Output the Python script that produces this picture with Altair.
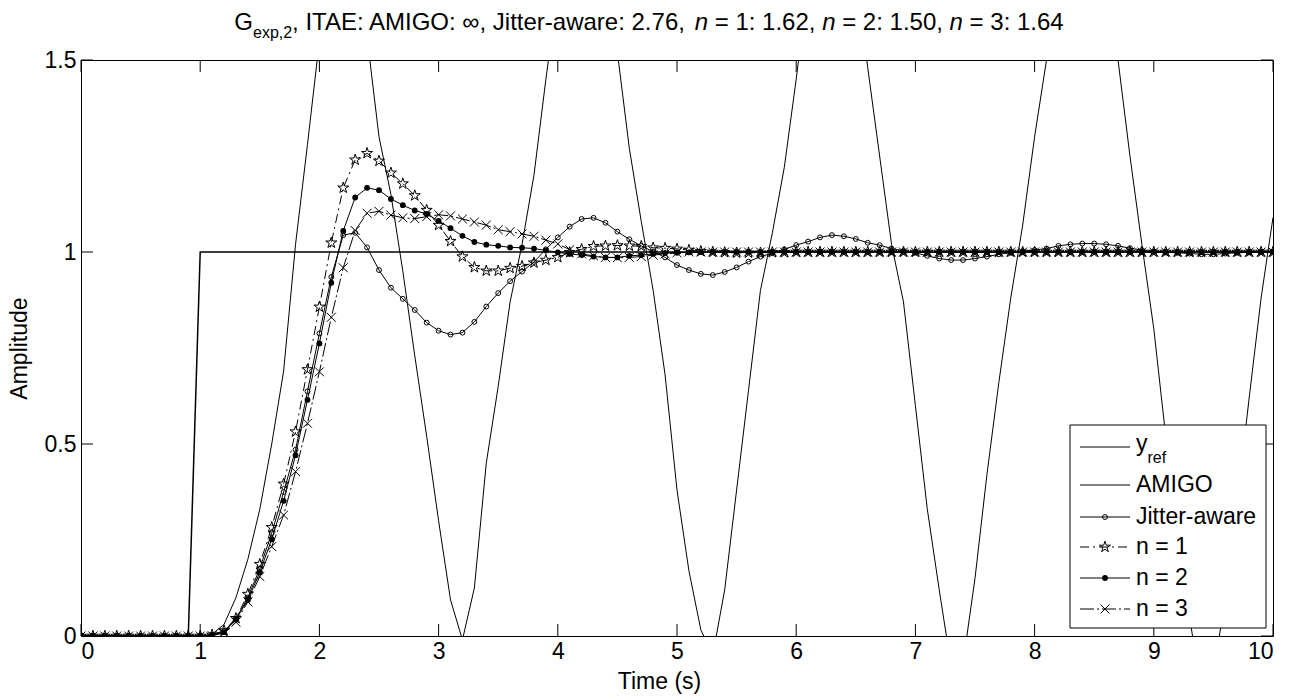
import altair as alt
import pandas as pd

time = [i / 10 for i in range(101)]

y_ref = [0] * 10 + [1] * 91

amigo = [0, 0, 0, 0, 0, 0, 0, 0, 0, 0, 0,
         0.005, 0.03, 0.1, 0.2, 0.33, 0.5, 0.69, 1.02, 1.28, 1.55,
         1.75, 1.85, 1.82, 1.56, 1.3, 1.15, 0.95, 0.73, 0.52, 0.3,
         0.094, -0.01, 0.125, 0.45, 0.65, 0.87, 1.02, 1.2, 1.45, 1.68,
         1.85, 1.92, 1.88, 1.72, 1.52, 1.27, 1.08, 0.9, 0.68, 0.38,
         0.17, 0.016, -0.05, 0.12, 0.38, 0.64, 0.9, 1.05, 1.22, 1.45,
         1.7, 1.88, 1.93, 1.88, 1.72, 1.48, 1.25, 1.02, 0.87, 0.6,
         0.33, 0.12, -0.08, -0.07, 0.15, 0.42, 0.66, 0.88, 1.07, 1.3,
         1.5, 1.75, 1.92, 1.97, 1.9, 1.75, 1.5, 1.25, 1.02, 0.8,
         0.52, 0.25, 0.05, -0.15, -0.1, 0.1, 0.35, 0.62, 0.88, 1.09]

jitter = [0, 0, 0, 0, 0, 0, 0, 0, 0, 0, 0,
          0.003, 0.013, 0.045, 0.1, 0.176, 0.268, 0.375, 0.485, 0.637, 0.788,
          0.935, 1.044, 1.05, 1.012, 0.953, 0.907, 0.878, 0.849, 0.816, 0.795,
          0.785, 0.79, 0.818, 0.858, 0.893, 0.924, 0.949, 0.974, 1.007, 1.038,
          1.066, 1.086, 1.089, 1.076, 1.053, 1.033, 1.016, 1.001, 0.986, 0.966,
          0.953, 0.943, 0.94, 0.948, 0.96, 0.975, 0.988, 0.997, 1.007, 1.018,
          1.027, 1.038, 1.044, 1.041, 1.034, 1.024, 1.018, 1.009, 1.003, 0.998,
          0.99, 0.983, 0.979, 0.979, 0.983, 0.988, 0.994, 0.998, 1.002, 1.005,
          1.009, 1.016, 1.02, 1.022, 1.022, 1.02, 1.016, 1.01, 1.005, 1.001,
          0.999, 0.998, 0.996, 0.994, 0.994, 0.996, 0.998, 0.999, 1.0, 1.0]

n1 = [0, 0, 0, 0, 0, 0, 0, 0, 0, 0, 0,
      0.003, 0.014, 0.046, 0.109, 0.187, 0.283, 0.396, 0.532, 0.694, 0.857,
      1.024, 1.167, 1.24, 1.257, 1.237, 1.206, 1.178, 1.147, 1.109, 1.07,
      1.028, 0.988, 0.96, 0.951, 0.951, 0.958, 0.963, 0.972, 0.979, 0.986,
      0.999, 1.007, 1.015, 1.016, 1.017, 1.016, 1.015, 1.011, 1.01, 1.008,
      1.005, 1.002, 1.0, 0.999, 0.998, 0.998, 0.998, 0.999, 0.999, 1.0,
      1.0, 1.0, 1.0, 1.0, 1.0, 1.0, 1.0, 1.0, 1.0, 1.0,
      1.0, 1.0, 1.0, 1.0, 1.0, 1.0, 1.0, 1.0, 1.0, 1.0,
      1.0, 1.0, 1.0, 1.0, 1.0, 1.0, 1.0, 1.0, 1.0, 1.0,
      1.0, 1.0, 1.0, 1.0, 1.0, 1.0, 1.0, 1.0, 1.0, 1.0]

n2 = [0, 0, 0, 0, 0, 0, 0, 0, 0, 0, 0,
      0.002, 0.01, 0.043, 0.094, 0.166, 0.252, 0.352, 0.471, 0.615, 0.762,
      0.92, 1.055, 1.142, 1.167, 1.161, 1.138, 1.122, 1.108, 1.099, 1.081,
      1.062, 1.042, 1.026, 1.019, 1.016, 1.012, 1.011, 1.009, 1.004, 0.999,
      0.995, 0.992, 0.988, 0.986, 0.986, 0.99, 0.992, 0.995, 0.997, 0.998,
      0.999, 1.0, 1.0, 1.0, 1.0, 1.0, 1.0, 1.0, 1.0, 1.0,
      1.0, 1.0, 1.0, 1.0, 1.0, 1.0, 1.0, 1.0, 1.0, 1.0,
      1.0, 1.0, 1.0, 1.0, 1.0, 1.0, 1.0, 1.0, 1.0, 1.0,
      1.0, 1.0, 1.0, 1.0, 1.0, 1.0, 1.0, 1.0, 1.0, 1.0,
      1.0, 1.0, 1.0, 1.0, 1.0, 1.0, 1.0, 1.0, 1.0, 1.0]

n3 = [0, 0, 0, 0, 0, 0, 0, 0, 0, 0, 0,
      0.001, 0.008, 0.036, 0.089, 0.155, 0.233, 0.315, 0.428, 0.554, 0.688,
      0.83, 0.959, 1.056, 1.101, 1.106, 1.096, 1.089, 1.087, 1.092, 1.097,
      1.094, 1.086, 1.078, 1.07, 1.058, 1.053, 1.047, 1.041, 1.031, 1.021,
      1.006, 0.995, 0.99, 0.986, 0.985, 0.986, 0.988, 0.992, 0.995, 0.998,
      1.0, 1.0, 1.0, 1.0, 1.0, 1.0, 1.0, 1.0, 1.0, 1.0,
      1.0, 1.0, 1.0, 1.0, 1.0, 1.0, 1.0, 1.0, 1.0, 1.0,
      1.0, 1.0, 1.0, 1.0, 1.0, 1.0, 1.0, 1.0, 1.0, 1.0,
      1.0, 1.0, 1.0, 1.0, 1.0, 1.0, 1.0, 1.0, 1.0, 1.0,
      1.0, 1.0, 1.0, 1.0, 1.0, 1.0, 1.0, 1.0, 1.0, 1.0]

x_ticks = [0, 1, 2, 3, 4, 5, 6, 7, 8, 9, 10]
y_ticks = [0, 0.5, 1, 1.5]

legend_labels = ["AMIGO", "Jitter-aware", "n = 1", "n = 2", "n = 3"]

for s in (y_ref, amigo, jitter, n1, n2, n3):
    assert len(s) == len(time), len(s)

# ---------------- style ----------------
FONT = "Liberation Sans"
FS = 23
W_PLOT, H_PLOT = 1192, 576
STAR = ("M0,-1L0.2245,-0.309L0.951,-0.309L0.363,0.118L0.588,0.809L0,0.382"
        "L-0.588,0.809L-0.363,0.118L-0.951,-0.309L-0.2245,-0.309Z")
XMARK = "M-1,-1L1,1M-1,1L1,-1"
DASH_N1 = [9, 4, 2, 4]
DASH_N3 = [14, 3, 2, 3]
STAR_SIZE, X_SIZE, CIRC_SIZE, DOT_SIZE = 135, 80, 24, 34

xs = alt.Scale(domain=[0, 10], nice=False, zero=False)
ys = alt.Scale(domain=[0, 1.5], nice=False, zero=False)
LBL = "'' + datum.value"
X = alt.X("t:Q", scale=xs, axis=alt.Axis(values=x_ticks, labelExpr=LBL, title="Time (s)"))
Y = alt.Y("v:Q", scale=ys, axis=alt.Axis(values=y_ticks, labelExpr=LBL, title="Amplitude"))


def frame(vals):
    return pd.DataFrame({"t": time, "v": vals})


def line(vals, dash=None, width=1.0):
    kw = dict(color="black", strokeWidth=width, clip=True)
    if dash:
        kw["strokeDash"] = dash
    return alt.Chart(frame(vals)).mark_line(**kw).encode(x=X, y=Y)


def points(vals, shape, size, filled):
    return alt.Chart(frame(vals)).mark_point(
        shape=shape, size=size, filled=filled, color="black", opacity=1,
        strokeWidth=1, clip=True).encode(x=X, y=Y)


layers = [
    line(y_ref, width=1.5),
    line(amigo),
    line(jitter), points(jitter, "circle", CIRC_SIZE, False),
    line(n1, dash=DASH_N1), points(n1, STAR, STAR_SIZE, False),
    line(n2), points(n2, "circle", DOT_SIZE, True),
    line(n3, dash=DASH_N3), points(n3, XMARK, X_SIZE, False),
]

# inward ticks on all four sides (MATLAB box style)
dfx = pd.DataFrame({"t": x_ticks})
dfy = pd.DataFrame({"v": y_ticks})
layers += [
    alt.Chart(dfx).mark_rule(color="black").encode(x=X, y=alt.value(H_PLOT), y2=alt.value(H_PLOT - 12)),
    alt.Chart(dfx).mark_rule(color="black").encode(x=X, y=alt.value(0), y2=alt.value(12)),
    alt.Chart(dfy).mark_rule(color="black").encode(y=Y, x=alt.value(0), x2=alt.value(12)),
    alt.Chart(dfy).mark_rule(color="black").encode(y=Y, x=alt.value(W_PLOT), x2=alt.value(W_PLOT - 12)),
]

one = pd.DataFrame({"a": [0]})


def txt(s, x, y, size, style="normal", align="left", baseline="alphabetic"):
    return alt.Chart(one).mark_text(
        text=s, font=FONT, fontSize=size, fontStyle=style, color="black",
        align=align, baseline=baseline).encode(x=alt.value(x), y=alt.value(y))


# ---------------- legend (drawn by hand to allow the subscript) ----------------
LX0, LX1, LY0, LY1 = 989, 1185, 365, 568
S0, S1, SM, TX = 999, 1049, 1024, 1055
rows = [387, 425, 457, 487, 518, 549]
layers.append(alt.Chart(one).mark_rect(fill="white", stroke="black", strokeWidth=1).encode(
    x=alt.value(LX0), x2=alt.value(LX1), y=alt.value(LY0), y2=alt.value(LY1)))
dashes = [None, None, None, DASH_N1, None, DASH_N3]
for r, d in zip(rows, dashes):
    kw = dict(color="black", strokeWidth=1)
    if d:
        kw["strokeDash"] = d
    layers.append(alt.Chart(one).mark_rule(**kw).encode(
        x=alt.value(S0), x2=alt.value(S1), y=alt.value(r)))
marks = [None, None, ("circle", CIRC_SIZE, False), (STAR, STAR_SIZE, False),
         ("circle", DOT_SIZE, True), (XMARK, X_SIZE, False)]
for r, m in zip(rows, marks):
    if m:
        layers.append(alt.Chart(one).mark_point(
            shape=m[0], size=m[1], filled=m[2], color="black", opacity=1, strokeWidth=1).encode(
            x=alt.value(SM), y=alt.value(r)))
layers.append(txt("y", TX, rows[0] + 4, FS))
layers.append(txt("ref", TX + 0.5 * FS, rows[0] + 16, 16))
for r, lab in zip(rows[1:], legend_labels):
    layers.append(txt(lab, TX, r, FS, baseline="middle"))

# ---------------- title with subscript and italics ----------------
WID = {' ': 278, ',': 278, '.': 278, ':': 278, '-': 333, '=': 584, '∞': 713,
       'A': 667, 'E': 667, 'G': 778, 'I': 278, 'M': 833, 'O': 778, 'T': 611, 'J': 500,
       'a': 556, 'e': 556, 'i': 222, 'n': 556, 'p': 556, 'r': 333, 't': 278, 'w': 722, 'x': 500}
for dgt in "0123456789":
    WID[dgt] = 556


def tw(s, size):
    return sum(WID.get(c, 556) for c in s) * size / 1000


TS = 24
TB = -30
TITLE_CX = 568
parts = [("G", TS, "normal", 0), ("exp,2", 16, "normal", 8),
         (", ITAE: AMIGO: ∞, Jitter-aware: 2.76, ", TS, "normal", 0),
         ("n", TS, "italic", 0), (" = 1: 1.62, ", TS, "normal", 0),
         ("n", TS, "italic", 0), (" = 2: 1.50, ", TS, "normal", 0),
         ("n", TS, "italic", 0), (" = 3: 1.64", TS, "normal", 0)]
total = sum(tw(p[0], p[1]) for p in parts)
cx = TITLE_CX - total / 2
for s, size, style, dy in parts:
    lead = len(s) - len(s.lstrip(" "))
    layers.append(txt(s.strip(" "), cx + tw(" " * lead, size), TB + dy, size, style))
    cx += tw(s, size)

chart = alt.layer(*layers).properties(
    width=W_PLOT, height=H_PLOT,
    autosize=alt.AutoSizeParams(type="none"),
    padding={"left": 81, "top": 60, "right": 25, "bottom": 61},
    background="white",
).configure_view(stroke="black", strokeWidth=1).configure_axis(
    domain=False, ticks=False, grid=False,
    labelFont=FONT, labelFontSize=FS, labelColor="black",
    titleFont=FONT, titleFontSize=FS, titleColor="black", titleFontWeight="normal",
).configure_axisX(labelPadding=4, titlePadding=7, titleX=578).configure_axisY(labelPadding=5, titlePadding=13)

chart.save("out.html", embed_options={"renderer": "svg", "actions": False})
